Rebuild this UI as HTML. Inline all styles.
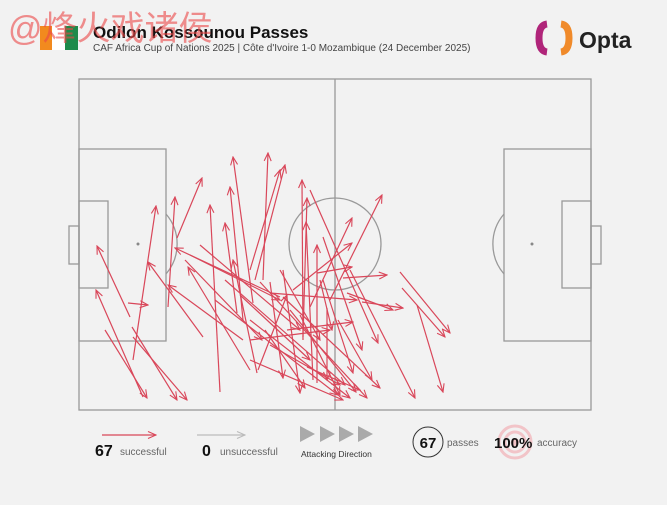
<!DOCTYPE html>
<html><head><meta charset="utf-8"><style>
body{margin:0;background:#f2f2f2;width:667px;height:500px;overflow:hidden;font-family:"Liberation Sans",sans-serif;}
</style></head><body>
<svg width="667" height="500" xmlns="http://www.w3.org/2000/svg">
<defs>
<marker id="ah" markerWidth="10" markerHeight="10" refX="9" refY="5" orient="auto" markerUnits="userSpaceOnUse">
<path d="M1,1.5 L9,5 L1,8.5" fill="none" stroke="#d9475a" stroke-width="1.1"/></marker>
<marker id="ag" markerWidth="10" markerHeight="10" refX="9" refY="5" orient="auto" markerUnits="userSpaceOnUse">
<path d="M1,1.5 L9,5 L1,8.5" fill="none" stroke="#bbb" stroke-width="1.1"/></marker>
</defs>
<rect width="667" height="500" fill="#f2f2f2"/>
<rect x="40" y="26" width="12" height="24" fill="#f28a1e"/>
<rect x="52" y="26" width="13" height="24" fill="#fff"/>
<rect x="65" y="26" width="13" height="24" fill="#1e8a4a"/>
<text x="93" y="38" font-size="17" font-weight="bold" fill="#111">Odilon Kossounou Passes</text>
<text x="93" y="51" font-size="10" fill="#444">CAF Africa Cup of Nations 2025 | Côte d'Ivoire 1-0 Mozambique (24 December 2025)</text>
<path d="M547,24 Q539,25 539,38 Q539,51 547,52" fill="none" stroke="#b0257a" stroke-width="7"/>
<path d="M561,24 Q569,25 569,38 Q569,51 561,52" fill="none" stroke="#f08a2a" stroke-width="7"/>
<text x="579" y="48" font-size="23" font-weight="bold" fill="#222">Opta</text>
<text x="8" y="40" font-size="34" fill="rgba(235,70,70,0.6)" font-family="'Liberation Sans','Noto Sans CJK SC',sans-serif">@烽火戏诸侯</text>
<g fill="none" stroke="#999" stroke-width="1.3">
<rect x="79" y="79" width="512" height="331"/>
<line x1="335" y1="79" x2="335" y2="410"/>
<circle cx="335" cy="244" r="46"/>
<rect x="79" y="149" width="87" height="192"/>
<rect x="79" y="201" width="29" height="87"/>
<rect x="69" y="226" width="10" height="38"/>
<path d="M166,214 A46,46 0 0 1 166,274"/>
<rect x="504" y="149" width="87" height="192"/>
<rect x="562" y="201" width="29" height="87"/>
<rect x="591" y="226" width="10" height="38"/>
<path d="M504,214 A46,46 0 0 0 504,274"/>
</g>
<circle cx="138" cy="244" r="1.5" fill="#888"/>
<circle cx="532" cy="244" r="1.5" fill="#888"/>
<g stroke="#d9475a" stroke-width="1.2" marker-end="url(#ah)" fill="none">
<line x1="130" y1="317" x2="97" y2="246"/>
<line x1="143" y1="397" x2="96" y2="290"/>
<line x1="105" y1="330" x2="147" y2="398"/>
<line x1="132" y1="327" x2="177" y2="400"/>
<line x1="133" y1="337" x2="187" y2="400"/>
<line x1="133" y1="360" x2="156" y2="206"/>
<line x1="128" y1="303" x2="148" y2="305"/>
<line x1="203" y1="337" x2="148" y2="262"/>
<line x1="168" y1="307" x2="175" y2="197"/>
<line x1="177" y1="238" x2="202" y2="178"/>
<line x1="220" y1="392" x2="210" y2="205"/>
<line x1="280" y1="297" x2="175" y2="248"/>
<line x1="250" y1="370" x2="188" y2="267"/>
<line x1="243" y1="340" x2="168" y2="285"/>
<line x1="237" y1="313" x2="225" y2="223"/>
<line x1="253" y1="303" x2="233" y2="157"/>
<line x1="263" y1="280" x2="268" y2="153"/>
<line x1="250" y1="270" x2="280" y2="170"/>
<line x1="243" y1="320" x2="230" y2="187"/>
<line x1="257" y1="373" x2="233" y2="260"/>
<line x1="255" y1="280" x2="285" y2="165"/>
<line x1="303" y1="340" x2="302" y2="180"/>
<line x1="317" y1="383" x2="317" y2="245"/>
<line x1="303" y1="337" x2="307" y2="198"/>
<line x1="310" y1="190" x2="378" y2="343"/>
<line x1="323" y1="237" x2="362" y2="350"/>
<line x1="310" y1="307" x2="352" y2="218"/>
<line x1="330" y1="300" x2="382" y2="195"/>
<line x1="293" y1="290" x2="352" y2="243"/>
<line x1="317" y1="273" x2="352" y2="267"/>
<line x1="343" y1="278" x2="387" y2="275"/>
<line x1="362" y1="302" x2="403" y2="308"/>
<line x1="347" y1="293" x2="393" y2="310"/>
<line x1="400" y1="272" x2="450" y2="333"/>
<line x1="402" y1="288" x2="445" y2="337"/>
<line x1="417" y1="305" x2="443" y2="392"/>
<line x1="350" y1="270" x2="415" y2="398"/>
<line x1="270" y1="293" x2="357" y2="300"/>
<line x1="260" y1="282" x2="367" y2="398"/>
<line x1="283" y1="297" x2="380" y2="388"/>
<line x1="250" y1="320" x2="350" y2="398"/>
<line x1="250" y1="340" x2="330" y2="330"/>
<line x1="287" y1="330" x2="353" y2="322"/>
<line x1="323" y1="280" x2="353" y2="373"/>
<line x1="283" y1="270" x2="300" y2="393"/>
<line x1="270" y1="282" x2="283" y2="378"/>
<line x1="307" y1="367" x2="360" y2="390"/>
<line x1="320" y1="280" x2="332" y2="330"/>
<line x1="258" y1="370" x2="287" y2="295"/>
<line x1="327" y1="308" x2="327" y2="380"/>
<line x1="250" y1="360" x2="343" y2="400"/>
<line x1="313" y1="380" x2="306" y2="222"/>
<line x1="185" y1="260" x2="262" y2="340"/>
<line x1="200" y1="245" x2="300" y2="330"/>
<line x1="215" y1="300" x2="338" y2="395"/>
<line x1="225" y1="280" x2="345" y2="385"/>
<line x1="290" y1="310" x2="356" y2="392"/>
<line x1="270" y1="345" x2="340" y2="385"/>
<line x1="240" y1="295" x2="310" y2="360"/>
<line x1="190" y1="255" x2="280" y2="300"/>
<line x1="300" y1="315" x2="340" y2="395"/>
<line x1="265" y1="330" x2="305" y2="388"/>
<line x1="338" y1="320" x2="372" y2="380"/>
<line x1="280" y1="270" x2="320" y2="340"/>
</g>
<line x1="102" y1="435" x2="156" y2="435" stroke="#d9475a" stroke-width="1.2" marker-end="url(#ah)"/>
<text x="95" y="456" font-size="16" font-weight="bold" fill="#111">67</text>
<text x="120" y="455" font-size="10" fill="#666">successful</text>
<line x1="197" y1="435" x2="245" y2="435" stroke="#bbb" stroke-width="1.2" marker-end="url(#ag)"/>
<text x="202" y="456" font-size="16" font-weight="bold" fill="#111">0</text>
<text x="220" y="455" font-size="10" fill="#666">unsuccessful</text>
<g fill="#aaa">
<polygon points="300,426 315,434 300,442"/><polygon points="320,426 335,434 320,442"/>
<polygon points="339,426 354,434 339,442"/><polygon points="358,426 373,434 358,442"/>
</g>
<text x="301" y="457" font-size="8.5" fill="#333">Attacking Direction</text>
<circle cx="428" cy="442" r="15" fill="none" stroke="#333" stroke-width="1"/>
<text x="428" y="448" font-size="15" font-weight="bold" fill="#111" text-anchor="middle">67</text>
<text x="447" y="446" font-size="10" fill="#666">passes</text>
<circle cx="515" cy="442" r="16" fill="none" stroke="#f2c4c8" stroke-width="3"/>
<circle cx="515" cy="442" r="10" fill="none" stroke="#f2c4c8" stroke-width="3"/>
<circle cx="515" cy="442" r="4" fill="#f2c4c8"/>
<text x="494" y="448" font-size="15" font-weight="bold" fill="#111">100%</text>
<text x="537" y="446" font-size="10" fill="#666">accuracy</text>
</svg>
</body></html>
